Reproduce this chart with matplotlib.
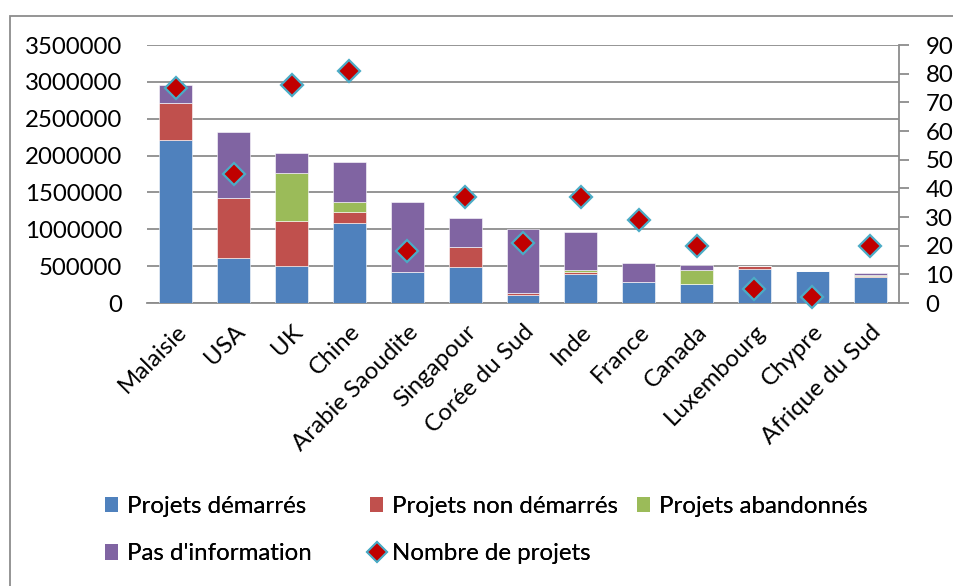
import matplotlib
matplotlib.use("Agg")
import matplotlib.pyplot as plt
from matplotlib.lines import Line2D
from matplotlib.patches import Patch, Rectangle
import numpy as np

plt.rcParams['font.family'] = ['Lato', 'DejaVu Sans']

categories = ["Malaisie", "USA", "UK", "Chine", "Arabie Saoudite", "Singapour",
              "Corée du Sud", "Inde", "France", "Canada", "Luxembourg", "Chypre",
              "Afrique du Sud"]
demarres = [2210000, 606000, 502000, 1085000, 416000, 488000, 104000, 389000,
            280000, 253000, 466000, 439000, 353000]
non_demarres = [503000, 818000, 606000, 149000, 0, 267000, 36000, 36000,
                0, 0, 31000, 0, 9000]
abandonnes = [0, 5000, 656000, 136000, 9000, 0, 0, 23000,
              0, 190000, 0, 0, 22000]
pas_info = [240000, 895000, 271000, 543000, 941000, 394000, 864000, 515000,
            263000, 77000, 5000, 0, 23000]
nb_projets = [75, 45, 76, 81, 18, 37, 21, 37, 29, 20, 5, 2, 20]

series_labels = ["Projets démarrés", "Projets non démarrés", "Projets abandonnés",
                 "Pas d'information", "Nombre de projets"]
colors = ["#4F81BD", "#C0504D", "#9BBB59", "#8064A2"]
yticks_left = [0, 500000, 1000000, 1500000, 2000000, 2500000, 3000000, 3500000]
yticks_right = [0, 10, 20, 30, 40, 50, 60, 70, 80, 90]

FS = 17.3
W, H = 954, 586
fig = plt.figure(figsize=(W / 100, H / 100), dpi=100)
ax = fig.add_axes([147 / W, 1 - 303 / H, (899 - 147) / W, (303 - 45) / H])
ax2 = ax.twinx()

x = np.arange(len(categories))
bottom = np.zeros(len(categories))
for vals, c in zip([demarres, non_demarres, abandonnes, pas_info], colors):
    ax.bar(x, vals, width=0.57, bottom=bottom, color=c, edgecolor='white',
           linewidth=0.4, zorder=3)
    bottom += np.array(vals)

ax.set_xlim(-0.5, len(categories) - 0.5)
ax.set_ylim(0, 3500000)
ax.set_yticks(yticks_left)
ax.set_yticklabels([str(v) for v in yticks_left])
ax.yaxis.grid(True, color='#8C8C8C', linewidth=1.3, zorder=0)
ax.set_axisbelow(True)
for s in ['top', 'right', 'left']:
    ax.spines[s].set_visible(False)
ax.spines['bottom'].set_color('#8C8C8C')
ax.spines['bottom'].set_linewidth(1.3)
ax.tick_params(axis='y', length=0, labelsize=FS, pad=18)
ax.tick_params(axis='x', length=0, labelsize=FS, pad=13)
ax.set_xticks(x)
ax.set_xticklabels(categories, rotation=45, ha='right', va='top',
                   rotation_mode='anchor')

ax2.plot(x, nb_projets, linestyle='none', marker='D', markersize=11,
         markerfacecolor='#C00000', markeredgecolor='#4BACC6',
         markeredgewidth=1.6, zorder=5, clip_on=False)
ax2.set_ylim(0, 90)
ax2.set_yticks(yticks_right)
for s in ['top', 'left', 'bottom']:
    ax2.spines[s].set_visible(False)
ax2.spines['right'].set_color('#8C8C8C')
ax2.spines['right'].set_linewidth(1.3)
ax2.tick_params(axis='y', direction='out', length=7, width=1.3, color='#8C8C8C',
                labelsize=FS, pad=12)

# Legend, placed manually
handles = [Patch(facecolor=c, edgecolor='none') for c in colors]
handles.append(Line2D([], [], linestyle='none', marker='D', markersize=10,
                      markerfacecolor='#C00000', markeredgecolor='#4BACC6',
                      markeredgewidth=1.4))
cols = [[0, 3], [1, 4], [2]]
col_x = [105, 370, 637]
for cidx, xpix in zip(cols, col_x):
    leg = fig.legend([handles[i] for i in cidx], [series_labels[i] for i in cidx],
                     loc='upper left', bbox_to_anchor=(xpix / W, 1 - 496 / H),
                     frameon=False, fontsize=FS, handlelength=0.55,
                     handleheight=0.6, handletextpad=0.35, labelspacing=1.1,
                     borderpad=0, borderaxespad=0)
    fig.add_artist(leg)

fig.add_artist(Rectangle((10 / W, -0.1), 1.2, 1 - 16 / H + 0.1,
                         transform=fig.transFigure, fill=False,
                         edgecolor='#8C8C8C', linewidth=1.3))

fig.savefig("out.png", dpi=100)
